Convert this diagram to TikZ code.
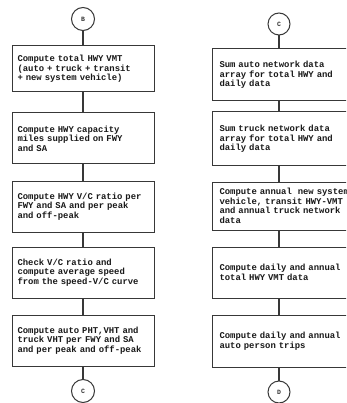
\documentclass[tikz,border=0pt]{standalone}
\usepackage{fontspec}
\setmonofont{Liberation Mono}
\begin{document}
\begin{tikzpicture}[x=1pt,y=-1pt,
  flowline/.style={draw=black!78, line width=1.1pt},
  procbox/.style={draw=black!78, line width=1pt, inner sep=0pt,
    minimum width=142pt, text width=131pt, align=left,
    font=\ttfamily\bfseries\fontsize{8.9}{9.6}\selectfont, text=black!90},
  rightbox/.style={procbox, text width=127pt},
  connector/.style={circle, draw=black!78, line width=1pt, inner sep=0pt,
    minimum size=23pt, font=\ttfamily\bfseries\fontsize{6.5}{7}\selectfont, text=black!80}]
\useasboundingbox (0,0) rectangle (346,403);
\clip (0,0) rectangle (346,403);
\fill[white] (0,0) rectangle (346,403);

% left column
\node[connector] (cB) at (83,19) {B};
\node[procbox, minimum height=46pt] (L1) at (83,69)
  {Compute total HWY VMT\\(auto + truck + transit\\+ new system vehicle)};
\node[procbox, minimum height=51pt] (L2) at (83,138.5)
  {Compute HWY capacity\\miles supplied on FWY\\and SA};
\node[procbox, minimum height=51pt] (L3) at (83,206.5)
  {Compute HWY V/C ratio per\\FWY and SA and per peak\\and off-peak};
\node[procbox, minimum height=51pt] (L4) at (83,272.5)
  {Check V/C ratio and\\compute average speed\\from the speed-V/C curve};
\node[procbox, minimum height=51pt] (L5) at (83,340.5)
  {Compute auto PHT,VHT and\\truck VHT per FWY and SA\\and per peak and off-peak};
\node[connector] (cC1) at (83,391) {C};

\draw[flowline] (cB) -- (L1);
\draw[flowline] (L1) -- (L2);
\draw[flowline] (L2) -- (L3);
\draw[flowline] (L3) -- (L4);
\draw[flowline] (L4) -- (L5);
\draw[flowline] (L5) -- (cC1);

% right column (its right edge runs off the page)
\node[connector, minimum size=22pt] (cC2) at (279,24) {C};
\node[rightbox, minimum height=52pt] (R1) at (283,75)
  {Sum auto network data\\array for total HWY and\\daily data};
\node[rightbox, minimum height=54pt] (R2) at (283,139)
  {Sum truck network data\\array for total HWY and\\daily data};
\node[rightbox, minimum height=48pt] (R3) at (283,206)
  {\mbox{Compute annual\ \ new system}\\vehicle, transit HWY-VMT\\and annual truck network\\data};
\node[rightbox, minimum height=51pt] (R4) at (283,272.5)
  {Compute daily and annual\\total HWY VMT data\\[3pt]};
\node[rightbox, minimum height=52pt] (R5) at (283,341)
  {Compute daily and annual\\auto person trips\\[6pt]};
\node[connector, minimum size=22pt] (cD) at (279,392) {D};

\draw[flowline] (cC2) -- (cC2 |- R1.north);
\draw[flowline] (cC2 |- R1.south) -- (cC2 |- R2.north);
\draw[flowline] (cC2 |- R2.south) -- (cC2 |- R3.north);
\draw[flowline] (cC2 |- R3.south) -- (cC2 |- R4.north);
\draw[flowline] (cC2 |- R4.south) -- (cC2 |- R5.north);
\draw[flowline] (cC2 |- R5.south) -- (cD);
\end{tikzpicture}
\end{document}
